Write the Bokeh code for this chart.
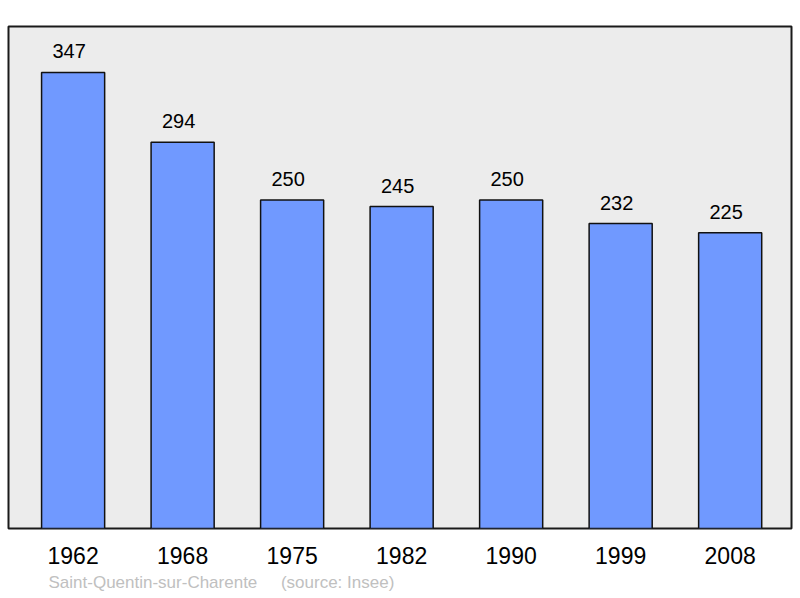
from bokeh.plotting import figure
from bokeh.models import Range1d, FixedTicker, Title
from bokeh.core.properties import value
from bokeh.embed import file_html
from bokeh.resources import INLINE

years = ["1962", "1968", "1975", "1982", "1990", "1999", "2008"]
population = [347, 294, 250, 245, 250, 232, 225]
commune = "Saint-Quentin-sur-Charente"
source = "(source: Insee)"

xs = list(range(len(years)))

p = figure(width=798, height=596, output_backend="svg", toolbar_location=None,
           x_range=Range1d(-0.59, 6.56), y_range=Range1d(0, 382),
           min_border_left=8, min_border_right=7, min_border_top=26,
           min_border_bottom=68)
p.background_fill_color = "#ececec"
p.border_fill_color = "white"
p.outline_line_color = "#1a1a1a"
p.outline_line_width = 2
p.grid.visible = False
p.yaxis.visible = False

p.vbar(x=xs, top=population, width=0.576, fill_color="#7099ff",
       line_color="#111111", line_width=1.5)

p.text(x=xs, y=population, text=[str(v) for v in population],
       text_align="center", text_baseline="alphabetic", y_offset=-21,
       x_offset=-4, text_font_size="20px", text_font=value("Liberation Sans"),
       text_color="black")

ax = p.xaxis[0]
ax.ticker = FixedTicker(ticks=xs)
ax.major_label_overrides = {i: y for i, y in enumerate(years)}
ax.axis_line_color = None
ax.major_tick_line_color = None
ax.minor_tick_line_color = None
ax.major_label_standoff = 12
ax.major_label_text_font = "Liberation Sans"
ax.major_label_text_font_size = "23px"
ax.major_label_text_color = "black"

footer = commune + "\u00a0" * 5 + source
p.add_layout(Title(text=footer, align="left", offset=40, standoff=8,
                   text_font="Liberation Sans", text_font_size="17px",
                   text_font_style="normal", text_color="#c0c0c0"), "below")

open("out.html", "w").write(file_html(p, INLINE))
